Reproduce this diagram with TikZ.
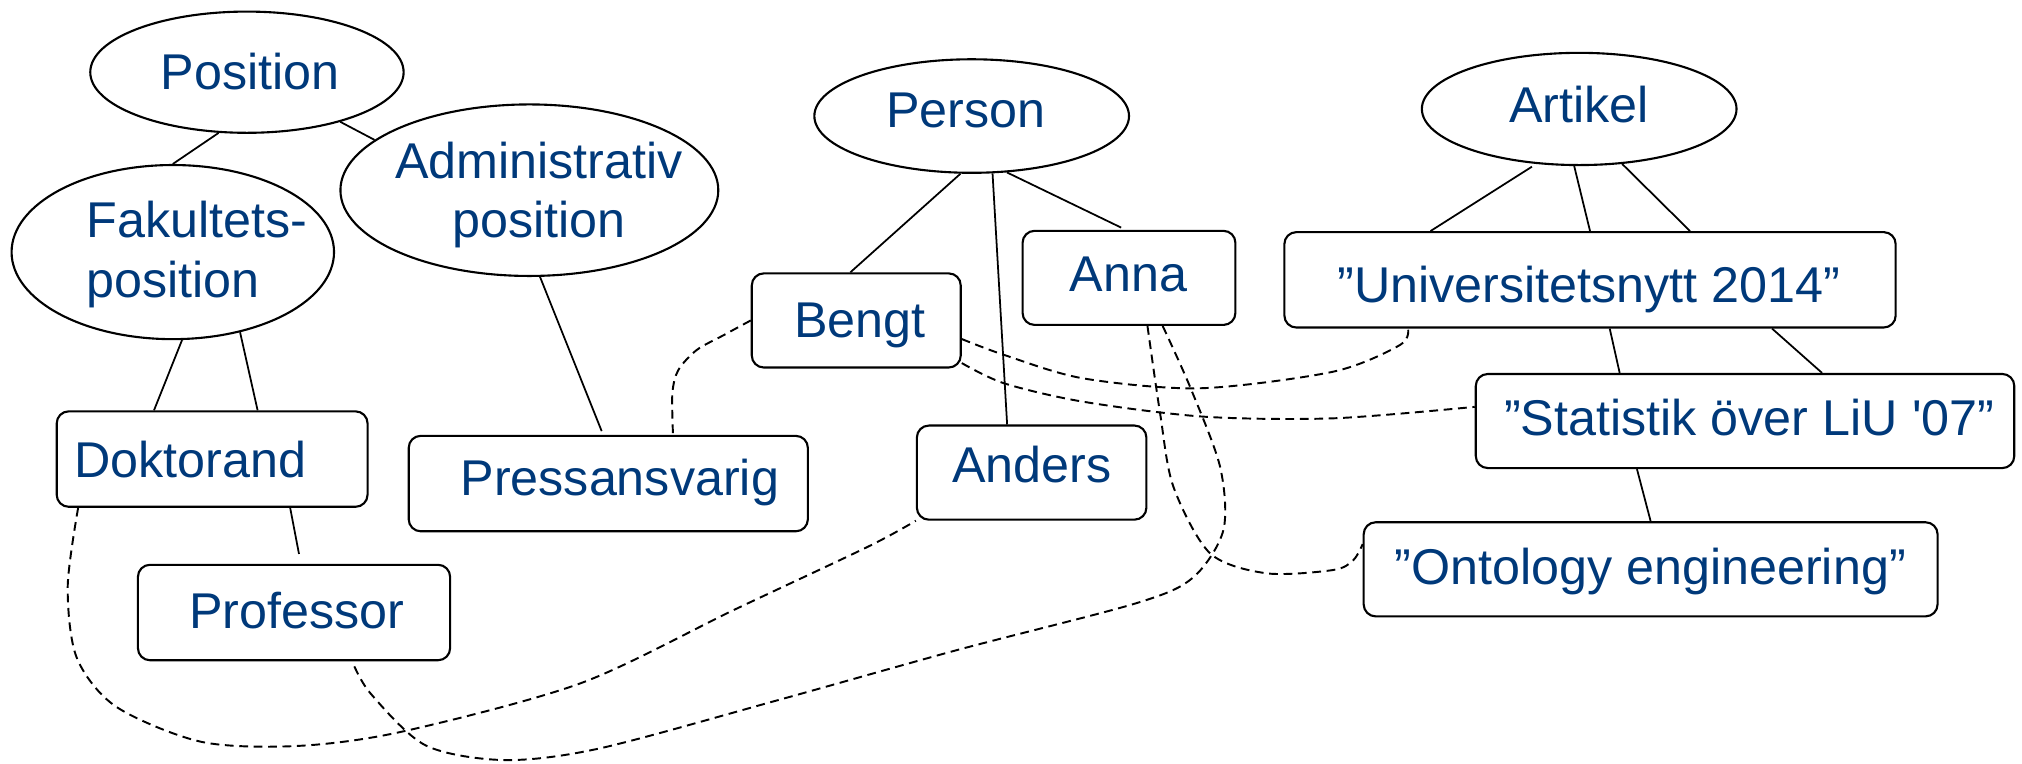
\documentclass[tikz,border=0pt]{standalone}
\usepackage{fontspec}
\setmainfont{Liberation Sans}[Ligatures=TeXOff]
\usepackage{tikz}
\usetikzlibrary{shapes.geometric}
\definecolor{liublue}{RGB}{0,57,122}
\tikzset{
  concept/.style={shape=ellipse, draw, line width=0.6pt, inner sep=0pt},
  inst/.style={shape=rectangle, rounded corners=0.12cm, draw, line width=0.6pt, inner sep=0pt},
  lbl/.style={text=liublue, font=\fontsize{14.3}{16.9}\selectfont, inner sep=0pt},
  isa/.style={line width=0.5pt},
  ref/.style={line width=0.55pt, dash pattern=on 2.5pt off 1.6pt},
}

\begin{document}
\begin{tikzpicture}[x=0.012895cm, y=-0.012895cm]
    \useasboundingbox (0, 0) rectangle (1568, 592);
    % Concepts:
    \node[concept, minimum width=3.133cm, minimum height=1.212cm](Position) at (191.5, 56){} node[lbl](PositionL) at (194, 55.6){Position};
    \node[concept, minimum width=3.224cm, minimum height=1.741cm](Fakultets) at (134, 195.5){} node[lbl, align=left](FakultetsL) at (152.7, 197.4){Fakultets-\\position};
    \node[concept, minimum width=3.778cm, minimum height=1.715cm](Admin) at (410.5, 147.5){} node[lbl, align=center](AdminL) at (418, 151.4){Administrativ\\position};
    \node[concept, minimum width=3.146cm, minimum height=1.135cm](Person) at (753.5, 90){} node[lbl](PersonL) at (749, 85.6){Person};
    \node[concept, minimum width=3.146cm, minimum height=1.122cm](Artikel) at (1224.6, 84.5){} node[lbl](ArtikelL) at (1224.6, 81.3){Artikel};
    % Instances:
    \node[inst, minimum width=3.108cm, minimum height=0.954cm](Doktorand) at (164.5, 356){} node[lbl](DoktorandL) at (147.6, 356.2){Doktorand};
    \node[inst, minimum width=3.121cm, minimum height=0.954cm](Professor) at (228, 475){} node[lbl](ProfessorL) at (230.2, 473.1){Professor};
    \node[inst, minimum width=3.991cm, minimum height=0.954cm](Pressansvarig) at (471.7, 375){} node[lbl](PressansvarigL) at (480.6, 374.1){Pressansvarig};
    \node[inst, minimum width=2.089cm, minimum height=0.941cm](Bengt) at (664, 248.5){} node[lbl](BengtL) at (667, 252.6){Bengt};
    \node[inst, minimum width=2.128cm, minimum height=0.941cm](Anna) at (875.5, 215.5){} node[lbl](AnnaL) at (875, 212.9){Anna};
    \node[inst, minimum width=2.295cm, minimum height=0.941cm](Anders) at (800, 366.5){} node[lbl](AndersL) at (800, 360.2){Anders};
    \node[inst, minimum width=6.112cm, minimum height=0.954cm](Univ) at (1233, 217){} node[lbl](UnivL) at (1232, 224.4){”Universitetsnytt 2014”};
    \node[inst, minimum width=5.384cm, minimum height=0.941cm](Statistik) at (1353.2, 326.5){} node[lbl](StatistikL) at (1356.5, 323.6){”Statistik över LiU '07”};
    \node[inst, minimum width=5.738cm, minimum height=0.941cm](Ontology) at (1280, 441.5){} node[lbl](OntologyL) at (1279.7, 443){”Ontology engineering”};

    % Hierarchy:
    \draw[isa] (Position.245) -- (Fakultets.north);
    \draw[isa] (Position.332) -- (Admin.162);
    \draw[isa] (Fakultets.276) -- (Doktorand.140);
    \draw[isa] (Fakultets.310) -- (Doktorand.47);
    \draw[isa, shorten >=0.04cm] (Admin.277) -- (Pressansvarig.96);
    \draw[isa, shorten >=0.1cm] (Doktorand.328) -- (Professor.82);
    \draw[isa] (Person.259) -- (Bengt.97);
    \draw[isa] (Person.290) -- (Anders.117);
    \draw[isa, shorten >=0.05cm] (Person.302) -- (Anna.94);
    \draw[isa, shorten <=0.05cm] (Artikel.232) -- (Univ.163.5);
    \draw[isa] (Artikel.265) -- (Univ.north);
    \draw[isa] (Artikel.308) -- (Univ.26);
    \draw[isa] (Univ.292) -- (Statistik.159);
    \draw[isa] (Univ.345.5) -- (Statistik.32);
    \draw[isa] (Statistik.204) -- (Ontology.north);

    % Relations:
    \draw[ref] plot[smooth] coordinates {(Bengt.west) (561, 260) (540.3, 271.4) (526, 287) (521.4, 305) (Pressansvarig.37)};
    \draw[ref] plot[smooth] coordinates {(Bengt.350) (778.8, 275.3) (839.8, 293.4) (930.6, 301.1) (1034, 288.2) (1085.7, 267.5) (Univ.195.7)};
    \draw[ref] plot[smooth] coordinates {(Bengt.338) (778.8, 297.3) (839.8, 311.5) (933.2, 323.1) (1034, 324.4) (Statistik.177.5)};
    \draw[ref] plot[smooth] coordinates {(Anna.291) (899.6, 320.5) (909.9, 377.4) (938.4, 429.1) (982.3, 444.6) (1034, 442) (1049.5, 434.3) (Ontology.175)};
    \draw[ref] plot[smooth] coordinates {(Anna.305) (922.8, 299.9) (946.1, 361.9) (948.7, 411) (925, 448) (880.7, 467.9) (742.2, 504.1) (603.8, 542.8) (465.3, 580.3) (391.2, 589.4) (330, 578) (287.3, 537.7) (Professor.320)};
    \draw[ref] plot[smooth] coordinates {(Doktorand.200.5) (52.5, 455) (59.5, 510) (90, 548) (155.8, 575.2) (230, 578.5) (311.6, 567.4) (450.1, 529.9) (569.1, 473) (673, 424) (Anders.south west)};
\end{tikzpicture}
\end{document}
